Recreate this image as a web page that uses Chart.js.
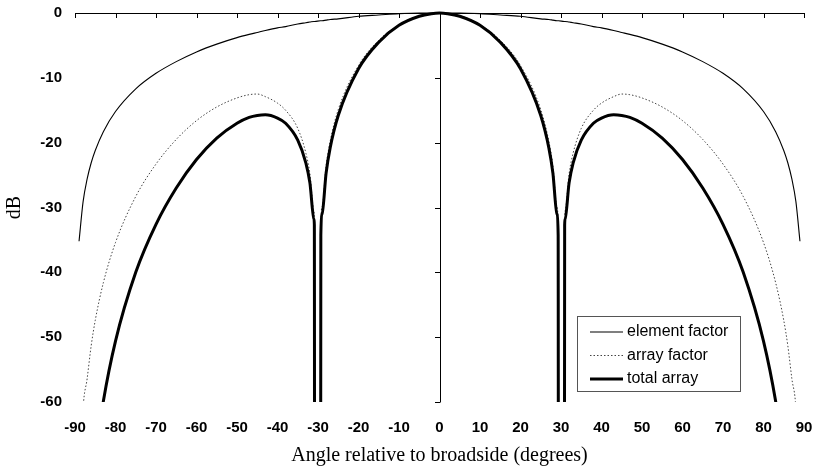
<!DOCTYPE html>
<html>
<head>
<meta charset="utf-8">
<script src="https://cdn.jsdelivr.net/npm/chart.js@4.4.1/dist/chart.umd.min.js"></script>
<style>
  body { margin: 0; background: #fff; }
  canvas { display: block; }
</style>
</head>
<body>
<canvas id="myChart" width="814" height="473"></canvas>
<script>
// angle (deg) and levels (dB); -120 means "off the bottom"
var angles = [-89, -88, -87, -86, -85, -83, -80, -75, -70, -65, -60, -55, -50, -47, -45, -43, -40, -38, -35, -33, -32, -31, -30.9, -30.8, -29.4, -29.3, -29, -28, -27, -25, -20, -15, -10, -5, -2,
  0,
  2, 5, 10, 15, 20, 25, 27, 28, 29, 29.3, 29.4, 30.8, 30.9, 31, 32, 33, 35, 38, 40, 43, 45, 47, 50, 55, 60, 65, 70, 75, 80, 83, 85, 86, 87, 88, 89];

var elementFactor = [-35.2, -29.1, -25.6, -23.1, -21.2, -18.3, -15.2, -11.7, -9.3, -7.5, -6.0, -4.8, -3.8, -3.3, -3.0, -2.7, -2.3, -2.1, -1.7, -1.5, -1.4, -1.3, -1.3, -1.3, -1.2, -1.2, -1.2, -1.1, -1.0, -0.9, -0.5, -0.3, -0.1, 0, 0,
  0,
  0, 0, -0.1, -0.3, -0.5, -0.9, -1.0, -1.1, -1.2, -1.2, -1.2, -1.3, -1.3, -1.3, -1.4, -1.5, -1.7, -2.1, -2.3, -2.7, -3.0, -3.3, -3.8, -4.8, -6.0, -7.5, -9.3, -11.7, -15.2, -18.3, -21.2, -23.1, -25.6, -29.1, -35.2];

var arrayFactor = [-76, -61, -56.4, -51.3, -47.4, -41.6, -35.4, -28.3, -23.3, -19.5, -16.6, -14.5, -13.1, -12.6, -12.5, -12.9, -13.9, -15.0, -17.8, -21.6, -24.8, -30.5, -31.4, -120, -120, -33.1, -29.9, -23.6, -19.8, -14.9, -8.1, -4.2, -1.8, -0.4, -0.1,
  0,
  -0.1, -0.4, -1.8, -4.2, -8.1, -14.9, -19.8, -23.6, -29.9, -33.1, -120, -120, -31.4, -30.5, -24.8, -21.6, -17.8, -15.0, -13.9, -12.9, -12.5, -12.6, -13.1, -14.5, -16.6, -19.5, -23.3, -28.3, -35.4, -41.6, -47.4, -51.3, -56.4, -61, -76];

var totalArray = [-110, -92, -82, -74.5, -68.6, -59.9, -50.6, -40.0, -32.6, -27.0, -22.6, -19.3, -17.0, -16.1, -15.8, -15.7, -16.2, -17.0, -19.6, -23.1, -26.2, -31.8, -32.7, -120, -120, -34.3, -31.0, -24.7, -20.8, -15.8, -8.6, -4.5, -1.9, -0.5, -0.1,
  0,
  -0.1, -0.5, -1.9, -4.5, -8.6, -15.8, -20.8, -24.7, -31.0, -34.3, -120, -120, -32.7, -31.8, -26.2, -23.1, -19.6, -17.0, -16.2, -15.7, -15.8, -16.1, -17.0, -19.3, -22.6, -27.0, -32.6, -40.0, -50.6, -59.9, -68.6, -74.5, -82, -92, -110];

var seriesNames = ['element factor', 'array factor', 'total array'];
var xTicks = [-90, 90, 10];
var yTicks = [-60, 0, 10];

function pts(vals) {
  return angles.map(function (a, i) { return { x: a, y: vals[i] }; });
}

var tickFont = { family: 'Liberation Sans, Arial, sans-serif', size: 15, weight: 'bold' };
var titleFont = { family: 'Liberation Serif, Times New Roman, serif', size: 20 };

// axis line along 0 dB and the vertical line at 0 deg, ticks pointing inward
var axesLines = {
  id: 'axesLines',
  afterDatasetsDraw: function (chart) {
    var ctx = chart.ctx, xs = chart.scales.x, ys = chart.scales.y;
    var y0 = ys.getPixelForValue(0), x0 = xs.getPixelForValue(0);
    ctx.save();
    ctx.strokeStyle = '#000';
    ctx.lineWidth = 1;
    ctx.beginPath();
    ctx.moveTo(xs.getPixelForValue(xTicks[0]), y0 + 0.5);
    ctx.lineTo(xs.getPixelForValue(xTicks[1]), y0 + 0.5);
    for (var a = xTicks[0]; a <= xTicks[1]; a += xTicks[2]) {
      var px = Math.round(xs.getPixelForValue(a)) + 0.5;
      ctx.moveTo(px, y0);
      ctx.lineTo(px, y0 + 5);
    }
    ctx.moveTo(Math.round(x0) + 0.5, y0);
    ctx.lineTo(Math.round(x0) + 0.5, ys.getPixelForValue(yTicks[0]));
    for (var d = yTicks[0]; d < yTicks[1]; d += yTicks[2]) {
      var py = Math.round(ys.getPixelForValue(d)) + 0.5;
      ctx.moveTo(Math.round(x0) + 0.5, py);
      ctx.lineTo(Math.round(x0) - 5, py);
    }
    ctx.stroke();
    ctx.restore();
  }
};

// boxed legend in the lower right of the plot
var boxLegend = {
  id: 'boxLegend',
  afterDraw: function (chart) {
    var ctx = chart.ctx, area = chart.chartArea;
    var w = 163, h = 75;
    var left = area.right - 64 - w, top = area.bottom - 11 - h;
    ctx.save();
    ctx.fillStyle = '#fff';
    ctx.fillRect(left, top, w, h);
    ctx.strokeStyle = '#555';
    ctx.lineWidth = 1;
    ctx.strokeRect(Math.round(left) + 0.5, Math.round(top) + 0.5, w, h);
    ctx.font = '16px Liberation Sans, Arial, sans-serif';
    ctx.textBaseline = 'middle';
    ctx.fillStyle = '#000';
    chart.data.datasets.forEach(function (ds, i) {
      var yy = top + 16 + i * 23.5;
      ctx.beginPath();
      ctx.strokeStyle = ds.borderColor;
      ctx.lineWidth = ds.borderWidth;
      ctx.setLineDash(ds.borderDash || []);
      ctx.moveTo(left + 13, yy);
      ctx.lineTo(left + 46, yy);
      ctx.stroke();
      ctx.setLineDash([]);
      ctx.fillText(ds.label, left + 50, yy);
    });
    ctx.restore();
  }
};

var myChart = document.getElementById('myChart').getContext('2d');
var PatternChart = new Chart(myChart, {
  type: 'line',
  data: {
    datasets: [{
      label: seriesNames[0],
      data: pts(elementFactor),
      borderColor: '#000',
      borderWidth: 1.1,
      order: 2
    }, {
      label: seriesNames[1],
      data: pts(arrayFactor),
      borderColor: '#444',
      borderWidth: 1,
      borderDash: [1.5, 2],
      order: 1
    }, {
      label: seriesNames[2],
      data: pts(totalArray),
      borderColor: '#000',
      borderWidth: 3,
      order: 0
    }]
  },
  plugins: [axesLines, boxLegend],
  options: {
    responsive: false,
    animation: false,
    events: [],
    layout: { padding: { left: 0, right: 10, top: 13, bottom: 0 } },
    elements: {
      point: { radius: 0 },
      line: { cubicInterpolationMode: 'monotone', fill: false }
    },
    datasets: { line: { clip: { left: 0, right: 0, top: 3, bottom: 0 } } },
    plugins: { legend: { display: false }, tooltip: { enabled: false } },
    scales: {
      x: {
        type: 'linear',
        min: xTicks[0],
        max: xTicks[1],
        afterFit: function (s) { s.height = 71; s.paddingLeft = 0; s.paddingRight = 0; },
        grid: { display: false, drawTicks: false },
        border: { display: false },
        ticks: { stepSize: xTicks[2], font: tickFont, color: '#000', padding: 17, maxRotation: 0 },
        title: { display: true, text: 'Angle relative to broadside (degrees)', font: titleFont, color: '#000', padding: { top: 0, bottom: 5 } }
      },
      y: {
        min: yTicks[0],
        max: yTicks[1],
        afterFit: function (s) { s.width = 75; s.paddingTop = 0; s.paddingBottom = 0; },
        grid: { display: false, drawTicks: false },
        border: { display: false },
        ticks: { stepSize: yTicks[2], font: tickFont, color: '#000', padding: 13 },
        title: { display: true, text: 'dB', font: titleFont, color: '#000', padding: { top: 3, bottom: 0 } }
      }
    }
  }
});
</script>
</body>
</html>
